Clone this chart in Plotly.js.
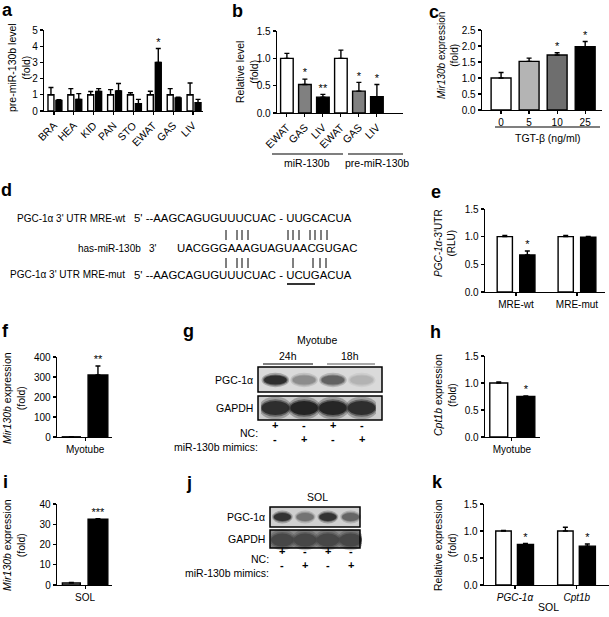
<!DOCTYPE html>
<html><head><meta charset="utf-8">
<script src="https://cdn.plot.ly/plotly-3.0.1.min.js"></script>
<style>html,body{margin:0;padding:0;background:#fff}#chart{width:609px;height:617px}</style>
</head><body><div id="chart"></div>
<script>
// ================= DATA =================
// a
const aTissues = ['BRA','HEA','KID','PAN','STO','EWAT','GAS','LIV'];
const aCtrl = [1,1,1,1,1,1,1,1];
const aCtrlErr = [0.45,0.38,0.2,0.32,0.13,0.22,0.38,0.73];
const aTreat = [0.65,0.72,1.2,1.24,0.45,3.0,0.8,0.52];
const aTreatErr = [0.05,0.35,0.18,0.46,0.27,0.86,0.05,0.2];
const aStars = ['','','','','','*','',''];
// b
const bLabels = ['EWAT','GAS','LIV','EWAT','GAS','LIV'];
const bVals = [1.0,0.52,0.29,1.0,0.4,0.3];
const bErr = [0.09,0.1,0.05,0.15,0.16,0.22];
const bStars = ['','*','**','','*','*'];
const bColors = ['#ffffff','#808080','#000000','#ffffff','#808080','#000000'];
const bGroups = ['miR-130b','pre-miR-130b'];
// c
const cDoses = ['0','5','10','25'];
const cVals = [1.0,1.52,1.72,1.98];
const cErr = [0.17,0.1,0.07,0.16];
const cStars = ['','','*','*'];
const cColors = ['#ffffff','#b4b4b4','#6e6e6e','#000000'];
// d
const dNames = ["PGC-1\u03b1 3' UTR MRE-wt", 'has-miR-130b', "PGC-1\u03b1 3' UTR MRE-mut"];
const dSeqs = ["5' --AAGCAGUGUUUCUAC - UUGCACUA", 'UACGGGAAAGUAGUAACGUGAC', "5' --AAGCAGUGUUUCUAC - UCUGACUA"];
// e
const eLabels = ['MRE-wt','MRE-mut'];
const eCtrl = [1.0,1.0], eCtrlErr = [0.02,0.02];
const eTreat = [0.67,0.99], eTreatErr = [0.07,0.015];
const eStars = ['*',''];
// f
const fLabel = ['Myotube'];
const fCtrl = [1], fCtrlErr = [0], fTreat = [310], fTreatErr = [45], fStars = ['**'];
// g
const gTimes = ['24h','18h'];
const gNC = ['+','-','+','-'];
const gMimic = ['-','+','-','+'];
const gPGC = [0.82,0.45,0.62,0.3];
const gGAPDH = [0.82,0.86,0.85,0.82];
// h
const hLabel = ['Myotube'];
const hCtrl = [1.0], hCtrlErr = [0.02], hTreat = [0.75], hTreatErr = [0.01], hStars = ['*'];
// i
const iLabel = ['SOL'];
const iCtrl = [1], iCtrlErr = [0.3], iTreat = [32.5], iTreatErr = [0.3], iStars = ['***'];
// j
const jNC = ['+','-','+','-'];
const jMimic = ['-','+','-','+'];
const jPGC = [0.8,0.55,0.8,0.6];
const jGAPDH = [0.72,0.72,0.72,0.72];
// k
const kLabels = ['<i>PGC-1\u03b1</i>','<i>Cpt1b</i>'];
const kCtrl = [1.0,1.0], kCtrlErr = [0.01,0.07];
const kTreat = [0.75,0.72], kTreatErr = [0.02,0.04];
const kStars = ['*','*'];

// ================= HELPERS =================
const W = 609, H = 617;
const FONT = 'Liberation Sans, Arial, Helvetica, sans-serif';
const px = x => x / W;
const py = y => 1 - y / H;
const xd = (a, b) => [a / W, b / W];
const yd = (top, bot) => [1 - bot / H, 1 - top / H];
const idx = arr => arr.map((_, i) => i);

function bars(n, y, err, color, offset, width) {
  return {
    type: 'bar', xaxis: 'x' + n, yaxis: 'y' + n,
    x: idx(y), y: y, width: y.map(() => width), offset: offset,
    marker: {color: color, line: {color: '#000', width: 1.4}},
    error_y: {type: 'data', visible: true, symmetric: false, array: err, arrayminus: err.map(() => 0),
      color: '#000', thickness: 1.4, width: 2.5},
    showlegend: false, hoverinfo: 'skip'
  };
}
function stars(n, y, err, txt, shift) {
  return {
    type: 'scatter', mode: 'text', xaxis: 'x' + n, yaxis: 'y' + n,
    x: idx(y).map(i => i + shift), y: y.map((v, i) => v + err[i]), text: txt,
    textposition: 'top center', textfont: {size: 11, color: '#000', family: FONT},
    cliponaxis: false, showlegend: false, hoverinfo: 'skip'
  };
}
function xax(n, dom, range, ticktext, angle, fs) {
  return {
    domain: dom, range: range, anchor: 'y' + n, type: 'linear',
    showline: true, linecolor: '#000', linewidth: 1.3,
    ticks: 'outside', ticklen: 3, tickwidth: 1.2, tickcolor: '#000',
    tickmode: 'array', tickvals: idx(ticktext), ticktext: ticktext, tickangle: angle || 0,
    showgrid: false, zeroline: false, tickfont: {size: fs || 10, color: '#000', family: FONT}, fixedrange: true
  };
}
function yax(n, dom, range, dtick, fmt) {
  return {
    domain: dom, range: range, anchor: 'x' + n,
    showline: true, linecolor: '#000', linewidth: 1.3,
    ticks: 'outside', ticklen: 3, tickwidth: 1.2, tickcolor: '#000',
    tick0: 0, dtick: dtick, tickformat: fmt || '',
    showgrid: false, zeroline: false, tickfont: {size: 10, color: '#000', family: FONT}, fixedrange: true
  };
}

const traces = [];
// a
traces.push(bars(1, aCtrl, aCtrlErr, '#fff', -0.3, 0.3));
traces.push(bars(1, aTreat, aTreatErr, '#000', 0.1, 0.3));
traces.push(stars(1, aTreat, aTreatErr, aStars, 0.25));
// b
traces.push(bars(2, bVals, bErr, bColors, -0.35, 0.7));
traces.push(stars(2, bVals, bErr, bStars, 0));
// c
traces.push(bars(3, cVals, cErr, cColors, -0.355, 0.71));
traces.push(stars(3, cVals, cErr, cStars, 0));
// e
traces.push(bars(4, eCtrl, eCtrlErr, '#fff', -0.31, 0.25));
traces.push(bars(4, eTreat, eTreatErr, '#000', 0.06, 0.25));
traces.push(stars(4, eTreat, eTreatErr, eStars, 0.185));
// f
traces.push(bars(5, fCtrl, fCtrlErr, '#fff', -0.38, 0.3));
traces.push(bars(5, fTreat, fTreatErr, '#000', 0.05, 0.33));
traces.push(stars(5, fTreat, fTreatErr, fStars, 0.215));
// h
traces.push(bars(6, hCtrl, hCtrlErr, '#fff', -0.37, 0.3));
traces.push(bars(6, hTreat, hTreatErr, '#000', 0.083, 0.3));
traces.push(stars(6, hTreat, hTreatErr, hStars, 0.233));
// i
traces.push(bars(7, iCtrl, iCtrlErr, '#cfcfcf', -0.38, 0.3));
traces.push(bars(7, iTreat, iTreatErr, '#000', 0.05, 0.33));
traces.push(stars(7, iTreat, iTreatErr, iStars, 0.215));
// k
traces.push(bars(8, kCtrl, kCtrlErr, '#fff', -0.31, 0.25));
traces.push(bars(8, kTreat, kTreatErr, '#000', 0.04, 0.26));
traces.push(stars(8, kTreat, kTreatErr, kStars, 0.17));
// blot lane placeholders
traces.push({type: 'scatter', mode: 'markers', xaxis: 'x9', yaxis: 'y9', x: idx(gPGC).map(i => i + 1), y: gPGC, marker: {opacity: 0}, showlegend: false, hoverinfo: 'skip'});
traces.push({type: 'scatter', mode: 'markers', xaxis: 'x10', yaxis: 'y10', x: idx(jPGC).map(i => i + 1), y: jPGC, marker: {opacity: 0}, showlegend: false, hoverinfo: 'skip'});

const layout = {
  width: W, height: H, autosize: false,
  margin: {l: 0, r: 0, t: 0, b: 0, pad: 0},
  paper_bgcolor: '#fff', plot_bgcolor: 'rgba(0,0,0,0)',
  font: {family: FONT, color: '#000', size: 10},
  barmode: 'overlay', showlegend: false,
  xaxis: xax(1, xd(44, 203), [-0.5, 7.5], aTissues, -45, 10.5),
  yaxis: yax(1, yd(30, 111), [0, 5], 1),
  xaxis2: xax(2, xd(277, 403), [-0.55, 6.45], bLabels, -45, 10.5),
  yaxis2: yax(2, yd(31, 113), [0, 1.5], 0.5, '.1f'),
  xaxis3: xax(3, xd(482, 602), [-0.68, 3.6], cDoses, 0),
  yaxis3: yax(3, yd(30, 110), [0, 2.5], 0.5, '.1f'),
  xaxis4: xax(4, xd(485, 605), [-0.51, 1.46], eLabels, 0),
  yaxis4: yax(4, yd(209, 292), [0, 1.5], 0.5, '.1f'),
  xaxis5: xax(5, xd(57, 112), [-0.47, 0.45], fLabel, 0),
  yaxis5: yax(5, yd(357, 437), [0, 400], 100),
  xaxis6: xax(6, xd(485, 540), [-0.45, 0.47], hLabel, 0),
  yaxis6: yax(6, yd(356, 437), [0, 1.5], 0.5, '.1f'),
  xaxis7: xax(7, xd(57, 112), [-0.47, 0.45], iLabel, 0),
  yaxis7: yax(7, yd(504, 585), [0, 40], 10),
  xaxis8: xax(8, xd(484, 609), [-0.5, 1.52], kLabels, 0),
  yaxis8: yax(8, yd(504, 585), [0, 1.5], 0.5, '.1f'),
  xaxis9: {domain: xd(261, 376), range: [0.5, 4.5], anchor: 'y9', visible: false, fixedrange: true},
  yaxis9: {domain: yd(367, 420), range: [0, 1], anchor: 'x9', visible: false, fixedrange: true},
  xaxis10: {domain: xd(271, 362), range: [0.5, 4.5], anchor: 'y10', visible: false, fixedrange: true},
  yaxis10: {domain: yd(507, 548), range: [0, 1], anchor: 'x10', visible: false, fixedrange: true},
  shapes: [], annotations: []
};
const S = layout.shapes, A = layout.annotations;

function txt(x, y, text, opts) {
  A.push(Object.assign({xref: 'paper', yref: 'paper', x: px(x), y: py(y), text: text, showarrow: false,
    xanchor: 'center', yanchor: 'middle', font: {size: 10, color: '#000', family: FONT}}, opts || {}));
}
function hline(x0, x1, y, w, color) {
  S.push({type: 'line', xref: 'paper', yref: 'paper', x0: px(x0), x1: px(x1), y0: py(y), y1: py(y),
    line: {color: color || '#000', width: w || 1.2}});
}
function vline(x, y0, y1, w) {
  S.push({type: 'line', xref: 'paper', yref: 'paper', x0: px(x), x1: px(x), y0: py(y0), y1: py(y1),
    line: {color: '#000', width: w || 1}});
}

// panel letters
const letters = [['a', 7, 10], ['b', 237, 11], ['c', 434, 12], ['d', 6, 190], ['e', 436, 192], ['f', 5, 331],
  ['g', 188, 331], ['h', 435, 332], ['i', 5, 482], ['j', 189, 483], ['k', 437, 482]];
letters.forEach(l => txt(l[1], l[2], '<b>' + l[0] + '</b>', {font: {size: 18, color: '#000', family: FONT}}));

// y titles
const yt = {size: 10.5, color: '#000', family: FONT};
const ytS = {size: 10, color: '#000', family: FONT};
txt(19, 68, 'pre-miR-130b level<br>(fold)', {textangle: -90, font: yt});
txt(247, 72, 'Relative level<br>(fold)', {textangle: -90, font: yt});
txt(448, 56, '<i>Mir130b</i> expression<br>(fold)', {textangle: -90, font: ytS});
txt(445, 243, '<i>PGC-1\u03b1</i>-3\'UTR<br>(RLU)', {textangle: -90, font: ytS});
txt(14, 398, '<i>Mir130b</i> expression<br>(fold)', {textangle: -90, font: yt});
txt(445, 395, '<i>Cpt1b</i> expression<br>(fold)', {textangle: -90, font: yt});
txt(14, 545, '<i>Mir130b</i> expression<br>(fold)', {textangle: -90, font: yt});
txt(445, 545, 'Relative expression<br>(fold)', {textangle: -90, font: yt});

// b group labels
hline(272, 343, 154, 1.2); hline(348, 403, 154, 1.2);
txt(307, 163, bGroups[0], {font: yt});
txt(377, 163, bGroups[1], {font: yt});
// c x title
hline(495, 600, 127, 1.2);
txt(548, 138, 'TGT-\u03b2 (ng/ml)', {font: yt});
// k group
txt(548, 607, 'SOL', {font: yt});

// d sequences
const dF = {size: 10, color: '#000', family: FONT};
const sF = {size: 11.4, color: '#000', family: FONT};
txt(127, 218, dNames[0], {xanchor: 'right', font: dF});
txt(143, 248, dNames[1], {xanchor: 'right', font: dF});
txt(127, 275, dNames[2], {xanchor: 'right', font: dF});
txt(147, 248, "3'", {xanchor: 'left', font: dF});
txt(132, 218, dSeqs[0], {xanchor: 'left', font: sF});
txt(175, 248, dSeqs[1], {xanchor: 'left', font: sF});
txt(132, 275, dSeqs[2], {xanchor: 'left', font: sF});
[226, 237, 242, 248, 288, 293, 299, 310, 315, 321, 327].forEach(x => vline(x, 230, 240, 1));
[226, 237, 242, 248, 293, 313, 320, 326].forEach(x => vline(x, 258, 268, 1));
hline(287, 315, 284, 1.6);

// blots
function blot(ax, x0, x1, y0, y1, bg, vals, halfW, cy, halfH) {
  S.push({type: 'rect', xref: 'paper', yref: 'paper', x0: px(x0), x1: px(x1), y0: py(y1), y1: py(y0),
    fillcolor: bg, line: {width: 0}});
  vals.forEach((v, i) => {
    const g = Math.round(255 * (1 - v));
    S.push({type: 'circle', xref: ax, yref: 'paper', x0: i + 1 - halfW * 1.2, x1: i + 1 + halfW * 1.2,
      y0: py(cy + halfH * 1.6), y1: py(cy - halfH * 1.6), fillcolor: `rgba(${g},${g},${g},0.3)`, line: {width: 0}});
    S.push({type: 'circle', xref: ax, yref: 'paper', x0: i + 1 - halfW * 1.08, x1: i + 1 + halfW * 1.08,
      y0: py(cy + halfH * 1.25), y1: py(cy - halfH * 1.25), fillcolor: `rgba(${g},${g},${g},0.5)`, line: {width: 0}});
    S.push({type: 'circle', xref: ax, yref: 'paper', x0: i + 1 - halfW, x1: i + 1 + halfW,
      y0: py(cy + halfH), y1: py(cy - halfH), fillcolor: `rgb(${g},${g},${g})`, line: {width: 0}});
  });
  S.push({type: 'rect', xref: 'paper', yref: 'paper', x0: px(x0), x1: px(x1), y0: py(y1), y1: py(y0),
    fillcolor: 'rgba(0,0,0,0)', line: {color: '#000', width: 1.5}});
}
// g
txt(317, 340, 'Myotube', {font: yt});
txt(288, 356, gTimes[0], {font: yt}); txt(350, 356, gTimes[1], {font: yt});
hline(263, 313, 364, 1.2); hline(327, 375, 364, 1.2, '#555');
blot('x9', 258, 382, 367, 392, '#dadada', gPGC, 0.4, 380, 4.5);
blot('x9', 258, 382, 396, 420, '#cdcdcd', gGAPDH, 0.48, 408, 7);
txt(255, 380, 'PGC-1\u03b1', {xanchor: 'right', font: yt});
txt(255, 408, 'GAPDH', {xanchor: 'right', font: yt});
txt(260, 433, 'NC:', {xanchor: 'right', font: yt});
txt(260, 447, 'miR-130b mimics:', {xanchor: 'right', font: yt});
const sgn = {size: 11, family: FONT, color: '#000'};
gNC.forEach((s, i) => A.push({xref: 'x9', yref: 'paper', x: i + 1, y: py(433), text: '<b>' + s + '</b>', showarrow: false, font: sgn}));
gMimic.forEach((s, i) => A.push({xref: 'x9', yref: 'paper', x: i + 1, y: py(447), text: '<b>' + s + '</b>', showarrow: false, font: sgn}));
// j
txt(317, 497, 'SOL', {font: yt});
blot('x10', 270, 360, 507, 527, '#d0d0d0', jPGC, 0.38, 517, 4);
blot('x10', 270, 360, 530, 548, '#8a8a8a', jGAPDH, 0.5, 540, 6.5);
txt(267, 517, 'PGC-1\u03b1', {xanchor: 'right', font: yt});
txt(267, 539, 'GAPDH', {xanchor: 'right', font: yt});
txt(271, 559, 'NC:', {xanchor: 'right', font: yt});
txt(271, 573, 'miR-130b mimics:', {xanchor: 'right', font: yt});
jNC.forEach((s, i) => A.push({xref: 'x10', yref: 'paper', x: i + 1, y: py(559), text: '<b>' + s + '</b>', showarrow: false, font: sgn}));
jMimic.forEach((s, i) => A.push({xref: 'x10', yref: 'paper', x: i + 1, y: py(573), text: '<b>' + s + '</b>', showarrow: false, font: sgn}));

Plotly.newPlot('chart', traces, layout, {staticPlot: true, displayModeBar: false});
</script></body></html>
